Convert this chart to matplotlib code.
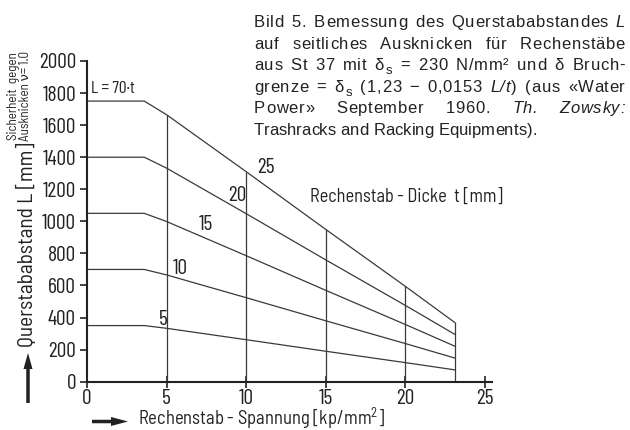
import matplotlib
matplotlib.use('Agg')
import matplotlib.pyplot as plt
from matplotlib.patches import FancyArrow
from matplotlib.transforms import IdentityTransform

# ---------------- data ----------------
stress = [0, 3.6, 5, 10, 15, 20, 23.1]          # Rechenstab-Spannung [kp/mm2]
thickness_labels = ['5', '10', '15', '20', '25']  # Rechenstab-Dicke t [mm]
L_t5 = [350, 350, 333, 262, 190, 119, 74]
L_t10 = [700, 700, 666, 524, 380, 238, 148]
L_t15 = [1050, 1050, 999, 786, 570, 357, 222]
L_t20 = [1400, 1400, 1332, 1048, 760, 476, 296]
L_t25 = [1750, 1750, 1665, 1310, 950, 595, 370]
series = [L_t5, L_t10, L_t15, L_t20, L_t25]
x_ticks = [0, 5, 10, 15, 20, 25]
y_ticks = [0, 200, 400, 600, 800, 1000, 1200, 1400, 1600, 1800, 2000]

DIGITS = ['Barlow Condensed', 'DejaVu Sans']
LABEL = ['Barlow Semi Condensed', 'DejaVu Sans']
SANS = ['Liberation Sans', 'DejaVu Sans']
INK = '#222222'
LINE = '#3a3a3a'

plt.rcParams['font.family'] = LABEL
plt.rcParams['mathtext.fontset'] = 'custom'
plt.rcParams['mathtext.rm'] = 'Barlow Semi Condensed'
plt.rcParams['mathtext.it'] = 'Barlow Semi Condensed:italic'
plt.rcParams['mathtext.bf'] = 'Barlow Semi Condensed:bold'

W, H = 630, 430
fig = plt.figure(figsize=(W / 100, H / 100), dpi=100)
ax = fig.add_axes([87 / W, 1 - 381.7 / H, (492 - 87) / W, (381.7 - 61) / H])
ax.set_xlim(0, 25.45)
ax.set_ylim(0, 2000)

for s in series:
    ax.plot(stress, s, color=LINE, lw=0.9, solid_joinstyle='miter')
ax.vlines(stress[2:], 0, L_t25[2:], color=LINE, lw=0.9)

for side in ['top', 'right']:
    ax.spines[side].set_visible(False)
for side in ['left', 'bottom']:
    ax.spines[side].set_linewidth(1.5)
    ax.spines[side].set_color(INK)

ax.set_xticks(x_ticks)
ax.set_yticks(y_ticks)
ax.set_xticklabels([str(v) for v in x_ticks], family=DIGITS)
ax.set_yticklabels([str(v) for v in y_ticks], family=DIGITS)
ax.tick_params(axis='x', direction='inout', length=9, width=1.2, colors=INK,
               labelsize=15.5, pad=1)
ax.tick_params(axis='y', direction='out', length=5, width=1.2, colors=INK,
               labelsize=15.5, pad=3)
ax.set_facecolor('none')

# curve labels
label_pos = [(4.78, 391), (5.89, 703), (7.49, 980), (9.43, 1164), (11.26, 1336)]
for lab, (x, y) in zip(thickness_labels, label_pos):
    ax.text(x, y, lab, ha='center', va='center', fontsize=15.5, color=INK,
            family=DIGITS)

ax.text(0.25, 1830, 'L = 70·t', ha='left', va='center', fontsize=12.5,
        color=INK, family=DIGITS)
ax.text(14.0, 1152, 'Rechenstab - Dicke  t [mm]', ha='left', va='center',
        fontsize=13.2, color=INK)

# axis labels with arrows (figure pixel coordinates, y from bottom)
idt = IdentityTransform()
fig.text(138, H - 424.5, r'Rechenstab - Spannung [kp/mm$^2$]', transform=idt,
         ha='left', va='baseline', fontsize=13.4, color=INK)
fig.patches.append(FancyArrow(
    92, H - 421.5, 36, 0, width=3.5, head_width=9, head_length=17,
    length_includes_head=True, transform=idt, color=INK, lw=0))
fig.text(27, H - 245, 'Querstababstand L [mm]', transform=idt, rotation=90,
         ha='center', va='center', fontsize=15.3, color=INK)
fig.patches.append(FancyArrow(
    28, H - 403, 0, 50, width=3.5, head_width=9, head_length=16,
    length_includes_head=True, transform=idt, color=INK, lw=0))
fig.text(14, H - 96, 'Sicherheit  gegen', transform=idt, rotation=90,
         ha='center', va='center', fontsize=9.4, color=INK)
fig.text(26, H - 96, 'Ausknicken ν= 1.0', transform=idt, rotation=90,
         ha='center', va='center', fontsize=9.4, color=INK)

# ---------------- justified caption ----------------
caption = [
    'Bild 5. Bemessung des Querstababstandes *L*',
    'auf seitliches Ausknicken für Rechenstäbe',
    'aus St 37 mit δ~s = 230 N/mm² und δ Bruch-',
    'grenze = δ~s (1,23 − 0,0153 *L/t*) (aus «Water',
    'Power» September 1960. *Th.* *Zowsky:*',
    'Trashracks and Racking Equipments).',
]
CAP_SIZE = 12.0
x_left, x_right = 254, 625
baseline0, line_step = 27, 21.6
BASE_GAP = 5.5      # minimal word gap in px
MAX_TRACK = 0.7     # maximal added letter spacing in px
renderer = fig.canvas.get_renderer()


def parse_word(word):
    """Split a word into style-homogeneous fragments (text, italic, sub)."""
    frags = []
    italic = False
    buf = ''
    i = 0
    while i < len(word):
        c = word[i]
        if c == '*':
            if buf:
                frags.append((buf, italic, False))
                buf = ''
            italic = not italic
        elif c == '~':
            if buf:
                frags.append((buf, italic, False))
                buf = ''
            frags.append((word[i + 1], italic, True))
            i += 1
        else:
            buf += c
        i += 1
    if buf:
        frags.append((buf, italic, False))
    return frags


def style_kw(it, sub):
    return dict(transform=idt, ha='left', va='baseline', color=INK, family=SANS,
                fontsize=CAP_SIZE * (0.8 if sub else 1.0),
                style='italic' if it else 'normal')


probe = fig.text(0, 0, '', **style_kw(False, False))


def measure(s, it, sub):
    probe.set_text(s)
    probe.set_fontsize(CAP_SIZE * (0.8 if sub else 1.0))
    probe.set_style('italic' if it else 'normal')
    return probe.get_window_extent(renderer).width


def layout_word(word, yb):
    """Return list of (text_artist, offset) per character, and word width."""
    chars = []
    x0 = 0.0
    for frag, it, sub in parse_word(word):
        for k, ch in enumerate(frag):
            off = measure(frag[:k + 1], it, sub) - measure(ch, it, sub)
            t = fig.text(0, yb - (4 if sub else 0), ch, **style_kw(it, sub))
            chars.append((t, x0 + off))
        x0 += measure(frag, it, sub) + 0.8
    return chars, x0 - 0.8


space_w = 0.278 * CAP_SIZE * 100 / 72
for li, line in enumerate(caption):
    yb = H - (baseline0 + li * line_step)
    words = [layout_word(w, yb) for w in line.split(' ')]
    word_sum = sum(wd for _, wd in words)
    n_word_gaps = len(words) - 1
    n_intra = sum(len(ch) - 1 for ch, _ in words)
    if li == len(caption) - 1:
        track, gap = 0.0, space_w
    else:
        avail = x_right - x_left - word_sum
        track = min(MAX_TRACK, max(0.0, (avail - n_word_gaps * BASE_GAP) / n_intra))
        gap = (avail - track * n_intra) / n_word_gaps
    x = x_left
    for chars, wd in words:
        for k, (t, off) in enumerate(chars):
            t.set_x(x + off + k * track)
        x += wd + (len(chars) - 1) * track + gap

probe.set_text('')
fig.savefig('out.png', dpi=100)
